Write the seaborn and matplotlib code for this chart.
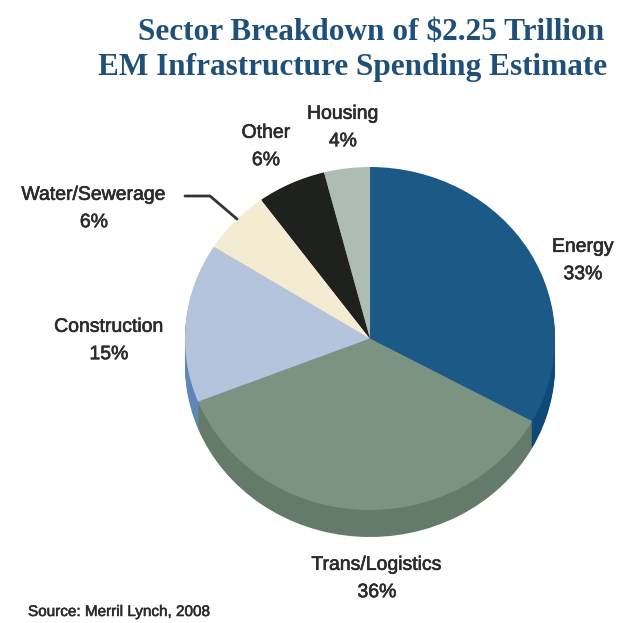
import numpy as np
import matplotlib
matplotlib.use("Agg")
import matplotlib.pyplot as plt
import matplotlib.patheffects as pe
import seaborn as sns

# data
sectors = ["Energy", "Trans/Logistics", "Construction", "Water/Sewerage", "Other", "Housing"]
shares = [33, 36, 15, 6, 6, 4]
top_colors = ["#1b5a87", "#7c9381", "#b4c4dd", "#f3ecd2", "#1f211e", "#adbdb3"]
side_colors = ["#0d4a78", "#647b69", "#5f86bb", "#d8cfae", "#151614", "#8fa196"]
title_lines = ["Sector Breakdown of $2.25 Trillion", "EM Infrastructure Spending Estimate"]

# label placement (pixel centers)
label_pos = [(583, 261), (377, 579), (109, 341), (94, 209), (266, 147), (343, 128)]
title_pos = [(371, 33), (353, 68)]

sns.set_theme(style="white")
plt.rcParams["font.family"] = ["Liberation Sans", "DejaVu Sans"]

W, H = 621, 623
fig = plt.figure(figsize=(W / 100, H / 100), dpi=100)
ax = fig.add_axes([0, 0, 1, 1])

cx, cy = 370, 338.5      # pie center in pixels
rx, ry = 185, 171.5      # horizontal / vertical radius in pixels
depth = 27 / ry          # thickness of the pie in y data units

# side of the pie: darker pies stacked downwards
for off in np.linspace(depth, 0.01, 18):
    ax.pie(shares, colors=side_colors, startangle=90, counterclock=False,
           center=(0, -off), radius=1, wedgeprops=dict(linewidth=0))
# top face
ax.pie(shares, colors=top_colors, startangle=90, counterclock=False,
       center=(0, 0), radius=1, wedgeprops=dict(linewidth=0))

ax.set_aspect("auto")
ax.set_xlim(-cx / rx, (W - cx) / rx)
ax.set_ylim((cy - H) / ry, cy / ry)
ax.axis("off")


def px(x, y):
    return (x - cx) / rx, (cy - y) / ry


thick = [pe.withStroke(linewidth=0.45, foreground="#2b2b2b")]

for name, val, (lx, ly) in zip(sectors, shares, label_pos):
    tx, ty = px(lx, ly)
    ax.text(tx, ty, f"{name}\n{val}%", ha="center", va="center",
            fontsize=14, color="#2b2b2b", linespacing=1.8, path_effects=thick)

# leader line for Water/Sewerage
lx0, ly0 = px(185, 196)
lx1, ly1 = px(210, 196)
lx2, ly2 = px(237, 219)
ax.plot([lx0, lx1, lx2], [ly0, ly1, ly2], color="#333333", lw=2)

for line, (tx, ty) in zip(title_lines, title_pos):
    fig.text(tx / W, 1 - ty / H, line, ha="center", va="center",
             fontsize=22.5, fontweight="bold",
             family=["Liberation Serif", "DejaVu Serif"], color="#1f5079")

fig.text(28 / W, 1 - 612 / H, "Source: Merril Lynch, 2008", ha="left", va="center",
         fontsize=11, color="#2b2b2b",
         path_effects=[pe.withStroke(linewidth=0.4, foreground="#2b2b2b")])

fig.savefig("out.png", dpi=100)
